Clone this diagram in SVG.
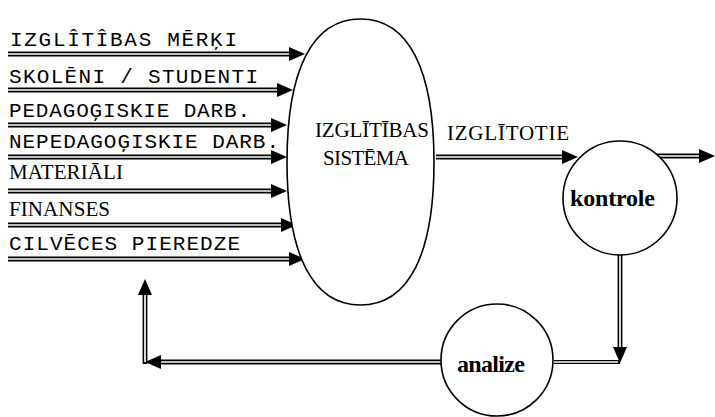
<svg xmlns="http://www.w3.org/2000/svg" width="715" height="417" viewBox="0 0 715 417">
  <style>
    .mono { font-family: "Liberation Mono", "DejaVu Sans Mono", monospace; font-size: 21px; fill: #000; }
    .serif { font-family: "Liberation Serif", "DejaVu Serif", serif; font-size: 21px; fill: #000; }
    .bold { font-family: "Liberation Serif", "DejaVu Serif", serif; font-size: 24px; font-weight: bold; fill: #000; }
    .shape { fill: #fff; stroke: #000; stroke-width: 1.6; }
    .outer { fill: none; stroke: #000; stroke-width: 4.8; marker-end: url(#head); }
    .inner { fill: none; stroke: #fff; stroke-width: 1.7; }
  </style>
  <defs>
    <marker id="head" viewBox="0 -8 17 16" refX="0" refY="0" markerWidth="17" markerHeight="16" markerUnits="userSpaceOnUse" orient="auto">
      <path d="M0,-7 L16,0 L0,7 z" fill="#000"/>
    </marker>
  </defs>
  <rect width="715" height="417" fill="#fff"/>

  <!-- input labels -->
  <g id="inputs">
    <text class="mono" x="10" y="46" textLength="227" lengthAdjust="spacing">IZGLÎTÎBAS MĒRĶI</text>
    <text class="mono" x="9" y="83" textLength="249" lengthAdjust="spacing">SKOLĒNI / STUDENTI</text>
    <text class="mono" x="9" y="117" textLength="241" lengthAdjust="spacing">PEDAGOĢISKIE DARB.</text>
    <text class="mono" x="9" y="148" textLength="270" lengthAdjust="spacing">NEPEDAGOĢISKIE DARB.</text>
    <text class="serif" x="9" y="179" textLength="114" lengthAdjust="spacing">MATERIĀLI</text>
    <text class="serif" x="9" y="216" textLength="101" lengthAdjust="spacing">FINANSES</text>
    <text class="mono" x="9" y="250" textLength="231" lengthAdjust="spacing">CILVĒCES PIEREDZE</text>
  </g>

  <!-- connectors: double lines with solid heads -->
  <g id="connectors">
    <path class="outer" d="M8,54 H289"/>
    <path class="inner" d="M8,54 H289"/>
    <path class="outer" d="M8,90 H277"/>
    <path class="inner" d="M8,90 H277"/>
    <path class="outer" d="M8,125 H271"/>
    <path class="inner" d="M8,125 H271"/>
    <path class="outer" d="M8,157 H271"/>
    <path class="inner" d="M8,157 H271"/>
    <path class="outer" d="M8,191 H271"/>
    <path class="inner" d="M8,191 H271"/>
    <path class="outer" d="M8,225 H281"/>
    <path class="inner" d="M8,225 H281"/>
    <path class="outer" d="M8,259 H289"/>
    <path class="inner" d="M8,259 H289"/>

    <!-- system to control -->
    <path class="outer" d="M436,157 H562"/>
    <path class="inner" d="M436,157 H562"/>
    <!-- control output -->
    <path class="outer" d="M657,156 H699"/>
    <path class="inner" d="M657,156 H699"/>
    <!-- control down to analysis line -->
    <path class="outer" d="M620,255 V347"/>
    <path class="inner" d="M620,255 V347"/>
    <path d="M620,362 H554" fill="none" stroke="#000" stroke-width="4.2"/>
    <path d="M618,362 H554" fill="none" stroke="#fff" stroke-width="1.4"/>
    <!-- analysis back to inputs -->
    <path class="outer" d="M441,362 H161"/>
    <path class="inner" d="M441,362 H161"/>
    <path class="outer" d="M145,364 V295"/>
    <path class="inner" d="M145,362 V295"/>
  </g>

  <!-- education system -->
  <g id="sistema">
    <path class="shape" d="M360.5,19 C312.7,19 287,69 287,162 C287,255 312.7,305 360.5,305 C408.3,305 434,255 434,162 C434,69 408.3,19 360.5,19 Z"/>
    <text class="serif" x="315" y="137" textLength="114" lengthAdjust="spacing">IZGLĪTĪBAS</text>
    <text class="serif" x="323" y="165" textLength="86" lengthAdjust="spacing">SISTĒMA</text>
  </g>

  <text class="serif" x="447" y="140" textLength="122" lengthAdjust="spacing">IZGLĪTOTIE</text>

  <!-- control -->
  <g id="kontrole">
    <circle class="shape" cx="620" cy="198" r="57"/>
    <text class="bold" x="570" y="206" textLength="85" lengthAdjust="spacing">kontrole</text>
  </g>

  <!-- analysis -->
  <g id="analize">
    <circle class="shape" cx="497" cy="360" r="56"/>
    <text class="bold" x="457" y="372" textLength="68" lengthAdjust="spacing">analize</text>
  </g>
</svg>
